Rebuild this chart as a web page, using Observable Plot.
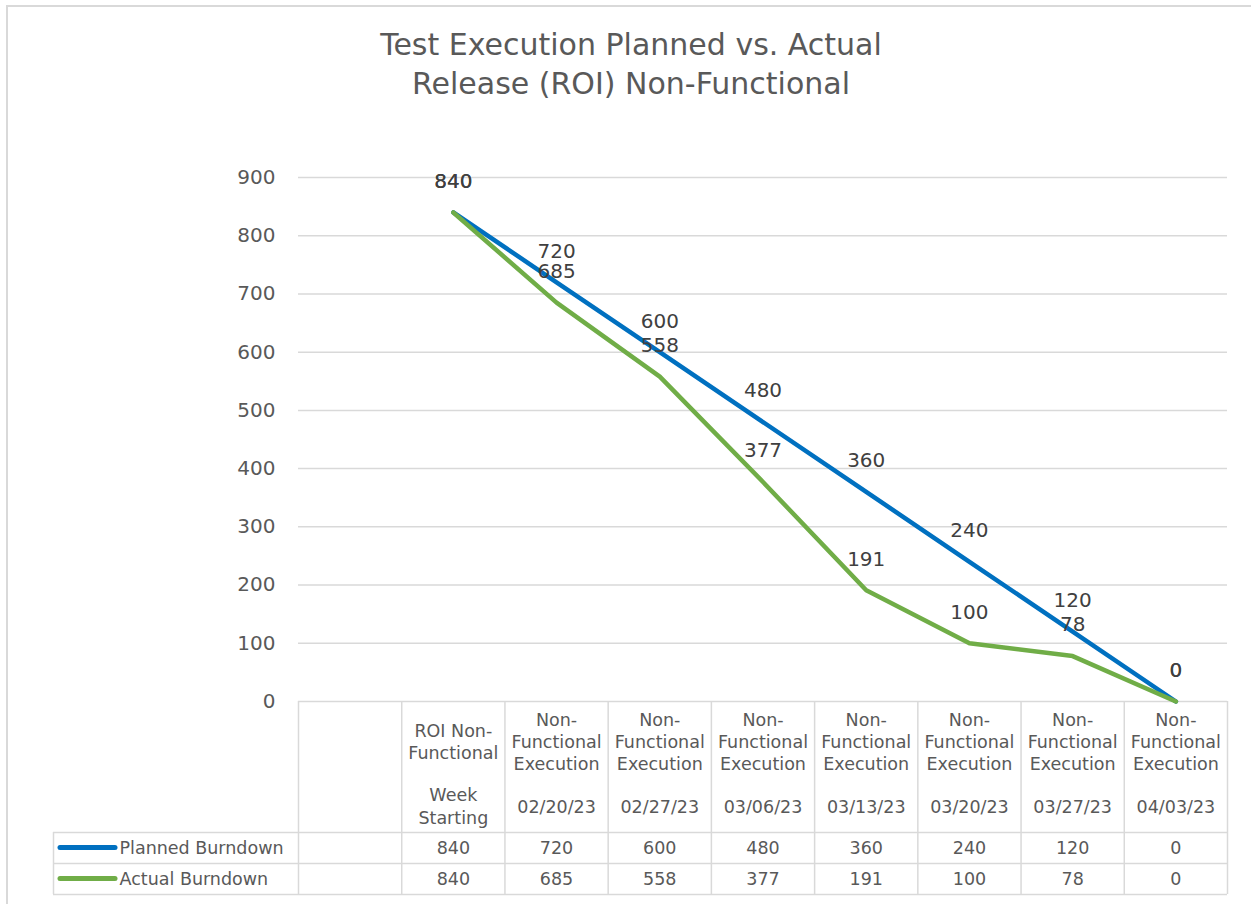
<!DOCTYPE html>
<html>
<head>
<meta charset="utf-8">
<script src="https://cdn.jsdelivr.net/npm/d3@7"></script>
<script src="https://cdn.jsdelivr.net/npm/@observablehq/plot@0.6"></script>
<style>
  html, body { margin: 0; padding: 0; background: #fff; overflow: hidden; }
  #wrap { position: relative; width: 1251px; height: 904px; overflow: hidden; }
  #border { position: absolute; left: 6px; top: 5px; width: 1300px; height: 1000px; border: 2px solid #d9d9d9; box-sizing: border-box; }
  #chart { position: absolute; left: 0; top: 0; }
  #title { position: absolute; left: 0; top: 25px; width: 1262px; text-align: center;
           font-family: "DejaVu Sans", sans-serif; font-size: 30px; line-height: 39px; color: #595959; }
</style>
</head>
<body>
<div id="wrap">
  <div id="border"></div>
  <div id="chart"></div>
  <div id="title">Test Execution Planned vs. Actual<br>Release (ROI) Non-Functional</div>
</div>
<script>
// ---- data ----
const categories = ["", "ROI Non-\nFunctional", "Non-\nFunctional\nExecution", "Non-\nFunctional\nExecution",
  "Non-\nFunctional\nExecution", "Non-\nFunctional\nExecution", "Non-\nFunctional\nExecution",
  "Non-\nFunctional\nExecution", "Non-\nFunctional\nExecution"];
const weekLabels = ["", "Week\nStarting", "02/20/23", "02/27/23", "03/06/23", "03/13/23", "03/20/23", "03/27/23", "04/03/23"];
const planned = [null, 840, 720, 600, 480, 360, 240, 120, 0];
const actual  = [null, 840, 685, 558, 377, 191, 100, 78, 0];
const seriesNames = ["Planned Burndown", "Actual Burndown"];
const seriesColors = ["#0070C0", "#70AD47"];
const yTicks = [0, 100, 200, 300, 400, 500, 600, 700, 800, 900];

// ---- layout ----
const W = 1251, H = 904, mL = 298, mR = 24, mT = 177, mB = 203;
const n = categories.length;
const xDomain = [-0.5, n - 0.5];
const yDomain = [0, 900];
const xS = d3.scaleLinear(xDomain, [mL, W - mR]);
const yS = d3.scaleLinear(yDomain, [H - mB, mT]);
const xAt = px => xS.invert(px);
const yAt = px => yS.invert(px);

const tableTop = H - mB;          // 701
const headerH = 131;
const rowH = 31;
const row1 = tableTop + headerH;  // 832
const tableBottom = row1 + 2 * rowH;
const legendLeft = 53;

const seriesValues = [planned, actual];
const points = [];
seriesValues.forEach((vals, k) => vals.forEach((v, i) => { if (v != null) points.push({series: seriesNames[k], k, i, value: v}); }));
const catRows = categories.map((c, i) => ({i, c, w: weekLabels[i]}));
const bounds = d3.range(n + 1).map(i => i - 0.5);
const legend = seriesNames.map((s, k) => ({s, k, color: seriesColors[k]}));
const grid = "#d9d9d9";
const txt = "#595959";

const chart = Plot.plot({
  width: W, height: H,
  marginLeft: mL, marginRight: mR, marginTop: mT, marginBottom: mB,
  style: {fontFamily: "DejaVu Sans, sans-serif", background: "transparent", overflow: "visible"},
  x: {domain: xDomain, axis: null},
  y: {domain: yDomain, axis: null},
  color: {domain: seriesNames, range: seriesColors},
  marks: [
    // gridlines
    Plot.ruleY(yTicks, {y: d => d, x1: xDomain[0], x2: xDomain[1], stroke: grid, strokeWidth: 1.5}),
    // y tick labels
    Plot.text(yTicks, {x: xDomain[0], y: d => d, text: d => String(d), dx: -23, textAnchor: "end", fontSize: 20, fill: txt}),
    // table grid
    Plot.ruleX(bounds, {x: d => d, y1: yAt(tableTop), y2: yAt(tableBottom), stroke: grid, strokeWidth: 1.5}),
    Plot.ruleX([xAt(legendLeft)], {x: d => d, y1: yAt(row1), y2: yAt(tableBottom), stroke: grid, strokeWidth: 1.5}),
    Plot.ruleY([row1, row1 + rowH, tableBottom].map(yAt), {y: d => d, x1: xAt(legendLeft), x2: xDomain[1], stroke: grid, strokeWidth: 1.5}),
    // header text
    Plot.text(catRows, {x: "i", y: () => yAt(tableTop + 39), text: "c", fontSize: 17.5, lineHeight: 1.257, fill: txt}),
    Plot.text(catRows, {x: "i", y: () => yAt(tableTop + 104), text: "w", fontSize: 17.5, lineHeight: 1.3, fill: txt}),
    // table values
    Plot.text(points, {x: "i", y: d => yAt(row1 + rowH * d.k + rowH / 2), text: d => String(d.value), fontSize: 17.5, fill: txt}),
    // legend keys
    Plot.ruleY(legend, {y: d => yAt(row1 + rowH * d.k + rowH / 2 - 0.5), x1: xAt(60), x2: xAt(115), stroke: "color", strokeWidth: 5, strokeLinecap: "round"}),
    Plot.text(legend, {x: xAt(119), y: d => yAt(row1 + rowH * d.k + rowH / 2), text: "s", textAnchor: "start", fontSize: 17.5, fill: txt}),
    // lines
    Plot.line(points, {x: "i", y: "value", z: "series", stroke: "series", strokeWidth: 4.5, strokeLinejoin: "round", strokeLinecap: "round"}),
    // data labels
    Plot.text(points, {x: "i", y: "value", text: d => String(d.value), dy: -31, fontSize: 20, fill: "#404040"})
  ]
});
document.getElementById("chart").appendChild(chart);
</script>
</body>
</html>
